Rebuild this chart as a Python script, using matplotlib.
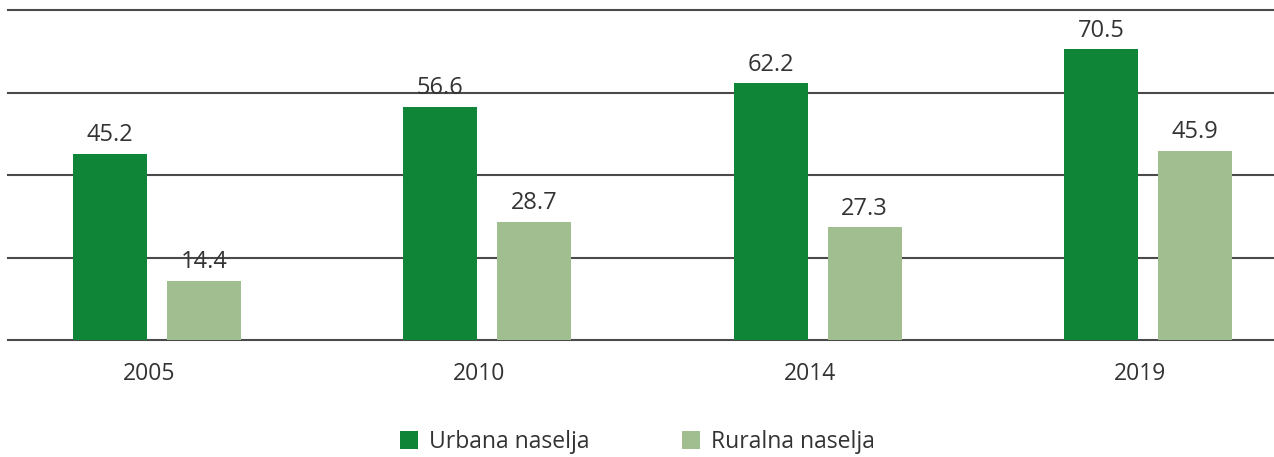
import matplotlib
matplotlib.use("Agg")
import matplotlib.pyplot as plt
from matplotlib.patches import Patch

years = ["2005", "2010", "2014", "2019"]
urban = [45.2, 56.6, 62.2, 70.5]
rural = [14.4, 28.7, 27.3, 45.9]
series_names = ["Urbana naselja", "Ruralna naselja"]

c_urban = "#0E8537"
c_rural = "#A1BE90"
txt = "#333333"
grid_c = "#4a4a4a"

plt.rcParams['font.family'] = ['Open Sans', 'DejaVu Sans']

fig = plt.figure(figsize=(12.74, 4.57), dpi=100)
ax = fig.add_axes([8/1274, 117/457, 1 - 8/1274, 330/457])

x = list(range(len(years)))
w = 0.224
off_u = -0.118
off_r = 0.1665
bu = ax.bar([i + off_u for i in x], urban, width=w, color=c_urban, zorder=3)
br = ax.bar([i + off_r for i in x], rural, width=w, color=c_rural, zorder=3)

for bars, vals in ((bu, urban), (br, rural)):
    for b, v in zip(bars, vals):
        ax.annotate(f"{v:.1f}", (b.get_x() + b.get_width()/2, v), xytext=(0, 4.5),
                    textcoords="offset points", ha="center", va="bottom",
                    fontsize=17, color=txt)

ax.set_ylim(0, 80)
ax.set_yticks([0, 20, 40, 60, 80])
ax.yaxis.grid(True, color=grid_c, linewidth=1.5, zorder=0)
for gl in ax.get_ygridlines():
    gl.set_clip_on(False)
ax.set_axisbelow(True)
ax.set_xlim((8 - 149) / 330.3, (1274 - 149) / 330.3)
ax.set_xticks(x)
ax.set_xticklabels(years, fontsize=16.5, color=txt)
ax.tick_params(axis='x', length=0, pad=16)
ax.tick_params(axis='y', length=0, labelleft=False)
for s in ax.spines.values():
    s.set_visible(False)

handles = [Patch(facecolor=c_urban, edgecolor='none'), Patch(facecolor=c_rural, edgecolor='none')]
leg = fig.legend(handles, series_names, loc="center", bbox_to_anchor=(0.5004, 0.033), ncol=2,
                 frameon=False, fontsize=16.5, handlelength=0.8, handleheight=0.8,
                 handletextpad=0.5, columnspacing=4.0, borderpad=0, borderaxespad=0)
for t in leg.get_texts():
    t.set_color(txt)

fig.savefig("out.png", dpi=100)
